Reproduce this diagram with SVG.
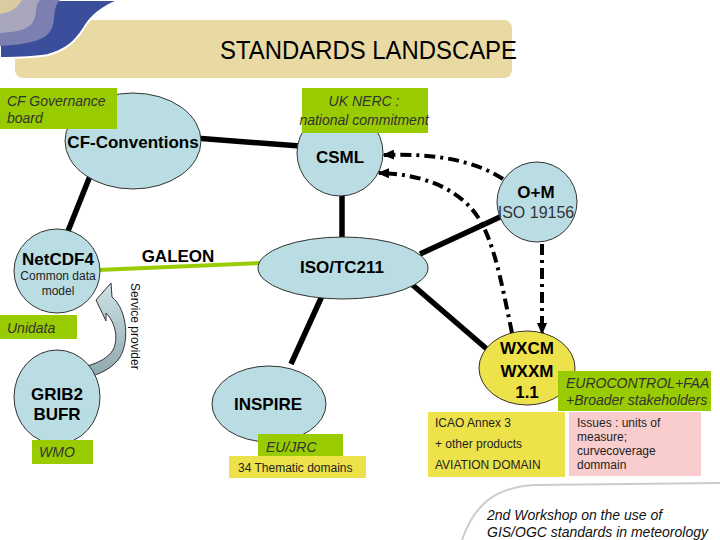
<svg xmlns="http://www.w3.org/2000/svg" width="720" height="540" viewBox="0 0 720 540">
<defs>
<style>
text{font-family:"Liberation Sans",Arial,sans-serif;}
.node{fill:#BADDE3;stroke:#333;stroke-width:1;}
.yel{fill:#EEE24A;}
.yelnode{fill:#EEE24A;stroke:#333;stroke-width:1;}
.grn{fill:#99CC00;}
.pink{fill:#F9CDCD;}
.lbl{font-size:17px;font-weight:bold;fill:#000;text-anchor:middle;}
.small{font-size:12px;fill:#222;}
.gi{font-size:14px;font-style:italic;fill:#333;}
.solid{stroke:#000;stroke-width:5.5;fill:none;}
.dd{stroke:#000;stroke-width:4;fill:none;stroke-dasharray:11 5 3 5;}
</style>
<marker id="ah" viewBox="0 0 12 10" refX="10" refY="5" markerWidth="12" markerHeight="10" markerUnits="userSpaceOnUse" orient="auto">
<path d="M0,0 L12,5 L0,10 z" fill="#000"/>
</marker>
<linearGradient id="arrg" x1="0" y1="0" x2="0" y2="1">
<stop offset="0" stop-color="#CFE3E8"/>
<stop offset="1" stop-color="#8EA7AD"/>
</linearGradient>
</defs>
<rect width="720" height="540" fill="#fff"/>
<g id="decor">
<rect x="15" y="20" width="497" height="58" rx="8" fill="#E9DAA4"/>
<path d="M0,0 H120 C104,6 92,14 84,28 C75,42 66,50 48,55 C32,58 14,58 0,58 Z" fill="#3A4E9C" stroke="#fff" stroke-width="2"/>
<path d="M0,0 H60 C52,8 56,18 52,28 C48,38 36,44 0,46 Z" fill="#7C80B0"/>
<path d="M0,0 H40 C34,6 38,14 33,22 C28,30 16,32 0,33 Z" fill="#A9A7BE"/>
<path d="M0,0 H22 C18,6 14,12 0,14 Z" fill="#D8CCA0"/>
<text x="220" y="59" font-size="26" textLength="297" lengthAdjust="spacingAndGlyphs" fill="#000">STANDARDS LANDSCAPE</text>
<path d="M462,540 C474,505 495,487 535,485 L720,483" fill="none" stroke="#CCCCCC" stroke-width="2"/>
<text x="487" y="520" font-size="14" font-style="italic" fill="#111">2nd Workshop on the use of</text>
<text x="487" y="537" font-size="14" font-style="italic" fill="#111">GIS/OGC standards in meteorology</text>
</g>
<g id="connectors">
<line class="solid" x1="195" y1="138" x2="300" y2="146"/>
<line class="solid" x1="90" y1="176" x2="66" y2="236"/>
<line class="solid" x1="342" y1="194" x2="342" y2="239"/>
<line class="solid" x1="500" y1="217" x2="420" y2="254"/>
<line class="solid" x1="408" y1="281" x2="488" y2="350"/>
<line class="solid" x1="322" y1="296" x2="291" y2="364"/>
<line x1="98" y1="270" x2="260" y2="263" stroke="#99CC00" stroke-width="4"/>
<path class="dd" d="M503,179 Q462,152 384,155" marker-end="url(#ah)"/>
<path class="dd" d="M512,333 C500,275 492,230 470,207 C450,186 420,174 379,173" marker-end="url(#ah)"/>
<path class="dd" d="M542,244 L542,333" marker-end="url(#ah)"/>
<path d="M96,300 L111,283 L112,297 C128,310 130,345 118,360 C110,370 98,374 90,377 L87,366 C98,363 108,358 113,350 C119,338 115,322 106,313 L106,321 Z" fill="url(#arrg)" stroke="#333" stroke-width="1"/>
<text transform="translate(131,283) rotate(90)" font-size="12" fill="#111">Service provider</text>
<text class="lbl" x="178" y="262">GALEON</text>
</g>
<g id="cf">
<ellipse class="node" cx="133" cy="141" rx="68" ry="48"/>
<text class="lbl" x="133" y="148">CF-Conventions</text>
</g>
<g id="cfgov">
<rect class="grn" x="0" y="88" width="117" height="41"/>
<text class="gi" x="7" y="106">CF Governance</text>
<text class="gi" x="7" y="123">board</text>
</g>
<g id="csml">
<circle class="node" cx="340" cy="153" r="43"/>
<text class="lbl" x="340" y="163">CSML</text>
</g>
<g id="uknerc">
<rect class="grn" x="302" y="88" width="126" height="45"/>
<text class="gi" x="364" y="106" text-anchor="middle">UK NERC :</text>
<text class="gi" x="364" y="125" text-anchor="middle">national commitment</text>
</g>
<g id="om">
<circle class="node" cx="537" cy="202" r="40"/>
<text class="lbl" x="536" y="198">O+M</text>
<text x="536" y="218" font-size="16" fill="#333" text-anchor="middle">ISO 19156</text>
</g>
<g id="iso">
<ellipse class="node" cx="343" cy="268" rx="85" ry="31"/>
<text class="lbl" x="342" y="273">ISO/TC211</text>
</g>
<g id="netcdf">
<ellipse class="node" cx="57" cy="271" rx="43" ry="42"/>
<text class="lbl" x="58" y="265">NetCDF4</text>
<text class="small" x="58" y="280" text-anchor="middle">Common data</text>
<text class="small" x="58" y="295" text-anchor="middle">model</text>
</g>
<g id="unidata">
<rect class="grn" x="0" y="315" width="77" height="24"/>
<text class="gi" x="7" y="333">Unidata</text>
</g>
<g id="grib">
<ellipse class="node" cx="57" cy="397" rx="43" ry="47"/>
<text class="lbl" x="57" y="400">GRIB2</text>
<text class="lbl" x="57" y="420">BUFR</text>
</g>
<g id="wmo">
<rect class="grn" x="32" y="440" width="61" height="24"/>
<text class="gi" x="39" y="457">WMO</text>
</g>
<g id="inspire">
<ellipse class="node" cx="269" cy="404" rx="57" ry="38"/>
<text class="lbl" x="268" y="410">INSPIRE</text>
</g>
<g id="eujrc">
<rect class="grn" x="258" y="434" width="85" height="22"/>
<text class="gi" x="266" y="452">EU/JRC</text>
</g>
<g id="thematic">
<rect class="yel" x="229" y="456" width="137" height="22"/>
<text class="small" x="238" y="472">34 Thematic domains</text>
</g>
<g id="wxcm">
<ellipse class="yelnode" cx="527" cy="368" rx="48" ry="37"/>
<text class="lbl" x="527" y="354">WXCM</text>
<text class="lbl" x="527" y="377">WXXM</text>
<text class="lbl" x="527" y="398">1.1</text>
</g>
<g id="eurocontrol">
<rect class="grn" x="558" y="371" width="153" height="40"/>
<text class="gi" x="566" y="388">EUROCONTROL+FAA</text>
<text class="gi" x="566" y="405">+Broader stakeholders</text>
</g>
<g id="icao">
<rect class="yel" x="428" y="412" width="137" height="65"/>
<text class="small" x="435" y="427">ICAO Annex 3</text>
<text class="small" x="435" y="448">+ other products</text>
<text class="small" x="435" y="469">AVIATION DOMAIN</text>
</g>
<g id="issues">
<rect class="pink" x="569" y="412" width="132" height="64"/>
<text class="small" x="577" y="427">Issues : units of</text>
<text class="small" x="577" y="441">measure;</text>
<text class="small" x="577" y="455">curvecoverage</text>
<text class="small" x="577" y="469">dommain</text>
</g>
</svg>
